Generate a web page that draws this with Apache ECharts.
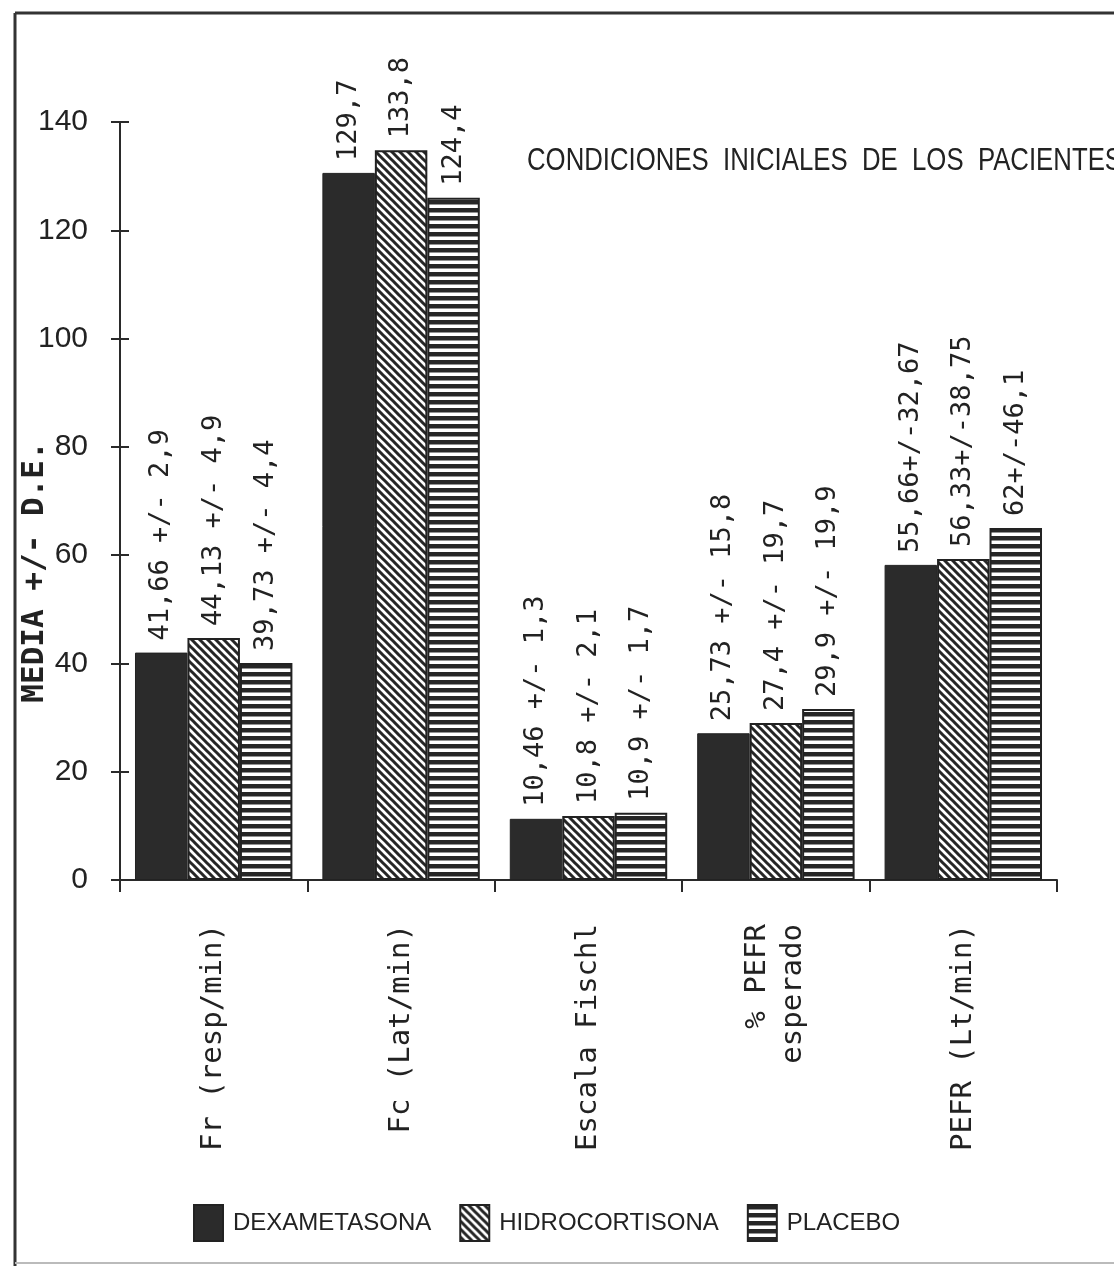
<!DOCTYPE html>
<html>
<head>
<meta charset="utf-8">
<script src="https://cdn.jsdelivr.net/npm/echarts@6/dist/echarts.min.js"></script>
<style>
html,body{margin:0;padding:0;background:#fff;}
#chart{width:1114px;height:1266px;}
</style>
</head>
<body>
<div id="chart"></div>
<script>
// ---- data ----
const chartTitle = 'CONDICIONES  INICIALES  DE  LOS  PACIENTES';
const categories = ['Fr (resp/min)', 'Fc (Lat/min)', 'Escala Fischl', '% PEFR\nesperado', 'PEFR (Lt/min)'];
const seriesNames = ['DEXAMETASONA', 'HIDROCORTISONA', 'PLACEBO'];
// bar heights as drawn in the picture
const dexValues = [42.0, 130.6, 11.3, 27.1, 58.2];
const hidroValues = [44.7, 134.8, 11.8, 29.0, 59.3];
const placeboValues = [40.1, 126.0, 12.4, 31.6, 65.0];
// printed value labels
const dexLabels = ['41,66 +/- 2,9', '129,7', '10,46 +/- 1,3', '25,73 +/- 15,8', '55,66+/-32,67'];
const hidroLabels = ['44,13 +/- 4,9', '133,8', '10,8 +/- 2,1', '27,4 +/- 19,7', '56,33+/-38,75'];
const placeboLabels = ['39,73 +/- 4,4', '124,4', '10,9 +/- 1,7', '29,9 +/- 19,9', '62+/-46,1'];
const yTicks = { min: 0, max: 140, interval: 20 };

// ---- patterns ----
function hatchPattern() {
  const c = document.createElement('canvas');
  c.width = 8; c.height = 8;
  const g = c.getContext('2d');
  g.fillStyle = '#fff'; g.fillRect(0, 0, 8, 8);
  g.strokeStyle = '#262626'; g.lineWidth = 3;
  g.beginPath();
  g.moveTo(-2, -2); g.lineTo(10, 10);
  g.moveTo(-2, 6); g.lineTo(2, 10);
  g.moveTo(6, -2); g.lineTo(10, 2);
  g.stroke();
  return c;
}
function stripePattern() {
  const c = document.createElement('canvas');
  c.width = 8; c.height = 8;
  const g = c.getContext('2d');
  g.fillStyle = '#fff'; g.fillRect(0, 0, 8, 8);
  g.fillStyle = '#262626'; g.fillRect(0, 0, 8, 4.5);
  return c;
}
const dexColor = '#2b2b2b';
const hidroColor = { image: hatchPattern(), repeat: 'repeat' };
const placeboColor = { image: stripePattern(), repeat: 'repeat' };

const valueLabelStyle = (labels) => ({
  show: true,
  position: 'top',
  rotate: 90,
  align: 'left',
  verticalAlign: 'middle',
  distance: 12,
  fontFamily: 'DejaVu Sans Mono',
  fontSize: 27,
  color: '#222',
  formatter: (p) => labels[p.dataIndex]
});

const chart = echarts.init(document.getElementById('chart'), null, { renderer: 'canvas' });
const option = {
  backgroundColor: '#fff',
  animation: false,
  legend: {
    data: seriesNames,
    left: 193,
    top: 1204,
    padding: 0,
    icon: 'rect',
    itemWidth: 29,
    itemHeight: 36,
    itemGap: 28,
    textStyle: { fontFamily: 'Liberation Sans', fontSize: 24, color: '#222', padding: [4, 0, 0, 5] }
  },
  grid: { left: 120, right: 57, top: 122, bottom: 386, containLabel: false, outerBoundsMode: 'none' },
  xAxis: {
    type: 'category',
    data: categories,
    axisLine: { lineStyle: { color: '#2a2a2a', width: 2 } },
    axisTick: { show: true, length: 12, lineStyle: { color: '#2a2a2a', width: 2 } },
    axisLabel: {
      rotate: 90,
      margin: 44,
      fontFamily: 'DejaVu Sans Mono',
      fontSize: 29,
      color: '#222',
      lineHeight: 36,
      interval: 0
    },
    splitLine: { show: false }
  },
  yAxis: [
    {
      type: 'value',
      min: yTicks.min, max: yTicks.max, interval: yTicks.interval,
      name: 'MEDIA +/- D.E.',
      nameLocation: 'middle',
      nameRotate: 90,
      nameGap: 70,
      nameMoveOverlap: false,
      nameTextStyle: { fontFamily: 'DejaVu Sans Mono', fontWeight: 'bold', fontSize: 31, color: '#222', padding: [0, 142, 0, 0] },
      axisLine: { show: true, lineStyle: { color: '#2a2a2a', width: 2 } },
      axisTick: { show: true, length: 9, lineStyle: { color: '#2a2a2a', width: 2 } },
      axisLabel: { margin: 32, fontFamily: 'Liberation Sans', fontSize: 30, color: '#222' },
      splitLine: { show: false }
    },
    {
      type: 'value',
      position: 'left',
      min: yTicks.min, max: yTicks.max, interval: yTicks.interval,
      axisLine: { show: false },
      axisTick: { show: true, inside: true, length: 9, lineStyle: { color: '#2a2a2a', width: 2 } },
      axisLabel: { show: false },
      splitLine: { show: false }
    }
  ],
  series: [
    {
      name: seriesNames[0], type: 'bar', data: dexValues,
      barGap: '0%', barCategoryGap: '16%',
      itemStyle: { color: dexColor, borderColor: '#222', borderWidth: 1 },
      label: valueLabelStyle(dexLabels)
    },
    {
      name: seriesNames[1], type: 'bar', data: hidroValues,
      barGap: '0%', barCategoryGap: '16%',
      itemStyle: { color: hidroColor, borderColor: '#222', borderWidth: 2 },
      label: valueLabelStyle(hidroLabels)
    },
    {
      name: seriesNames[2], type: 'bar', data: placeboValues,
      barGap: '0%', barCategoryGap: '16%',
      itemStyle: { color: placeboColor, borderColor: '#222', borderWidth: 2 },
      label: valueLabelStyle(placeboLabels)
    }
  ],
  graphic: [
    { type: 'text', x: 527, y: 161, scaleX: 0.805, silent: true,
      style: { text: chartTitle, font: '32px "Liberation Sans"', fill: '#222', verticalAlign: 'middle' } },
    { type: 'line', shape: { x1: 15, y1: 13, x2: 15, y2: 1266 }, style: { stroke: '#333', lineWidth: 3 }, silent: true },
    { type: 'line', shape: { x1: 15, y1: 13, x2: 1114, y2: 13 }, style: { stroke: '#333', lineWidth: 3 }, silent: true },
    { type: 'line', shape: { x1: 15, y1: 1263, x2: 1114, y2: 1263 }, style: { stroke: '#bbb', lineWidth: 2 }, silent: true }
  ]
};
chart.setOption(option);
</script>
</body>
</html>
